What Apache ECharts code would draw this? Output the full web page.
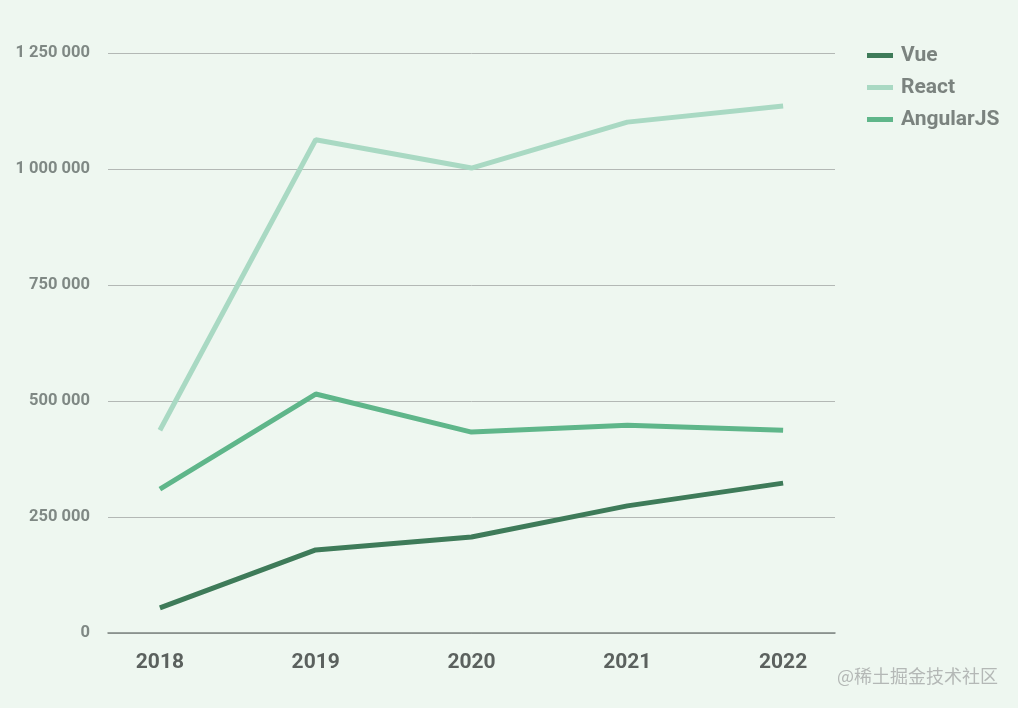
<!DOCTYPE html>
<html>
<head>
<meta charset="utf-8">
<script src="https://cdn.jsdelivr.net/npm/echarts@6/dist/echarts.min.js"></script>
<style>
html,body{margin:0;padding:0;background:#eef7f0;}
#c{width:1018px;height:708px;}
</style>
</head>
<body>
<div id="c"></div>
<script>
const years = [2018, 2019, 2020, 2021, 2022];
const vue = [54000, 179000, 207000, 274000, 323000];
const react = [437000, 1063000, 1002000, 1101000, 1136000];
const angular = [310000, 515000, 433000, 448000, 437000];
const yTicks = [0, 250000, 500000, 750000, 1000000, 1250000];

function pairs(arr){ return years.map((y,i)=>[y, arr[i]]); }
function fmt(v){ return String(v).replace(/\B(?=(\d{3})+(?!\d))/g, ' '); }

const chart = echarts.init(document.getElementById('c'));
chart.setOption({
  backgroundColor: '#eef7f0',
  animation: false,
  grid: { left: 108, right: 183, top: 53, bottom: 75 },
  legend: {
    orient: 'vertical', left: 862, top: 40,
    itemWidth: 26, itemHeight: 5, itemGap: 11,
    icon: 'rect',
    textStyle: { fontFamily: 'Roboto', fontWeight: 'bold', fontSize: 21, lineHeight: 20, color: '#7b837f', padding: [0,0,0,3] },
    data: ['Vue', 'React', 'AngularJS']
  },
  xAxis: {
    type: 'value', min: 2017.667, max: 2022.333,
    axisLine: { show: true, lineStyle: { color: '#7d8581', width: 1.5 } },
    axisTick: { show: false },
    splitLine: { show: false },
    axisLabel: {
      customValues: years,
      formatter: v => String(v),
      fontFamily: 'Roboto', fontWeight: 'bold', fontSize: 21, color: '#5b615e', margin: 19
    }
  },
  yAxis: {
    type: 'value', min: 0, max: 1250000, interval: 250000,
    axisLine: { show: false }, axisTick: { show: false },
    splitLine: { lineStyle: { color: '#b3b8b5', width: 1 } },
    axisLabel: {
      formatter: v => fmt(v),
      fontFamily: 'Roboto', fontWeight: 'bold', fontSize: 16.5, color: '#7f8884', margin: 18
    }
  },
  graphic: [{
    type: 'text', right: 20, top: 667,
    style: { text: '@稀土掘金技术社区', fontFamily: 'Noto Sans CJK SC', fontSize: 18, fill: '#b4b8b6' }
  }],
  series: [
    { name: 'Vue', type: 'line', data: pairs(vue), showSymbol: false, symbol: 'none',
      itemStyle: { color: '#3e7b59' }, lineStyle: { color: '#3e7b59', width: 5 } },
    { name: 'React', type: 'line', data: pairs(react), showSymbol: false, symbol: 'none',
      itemStyle: { color: '#a9d9c3' }, lineStyle: { color: '#a9d9c3', width: 5 } },
    { name: 'AngularJS', type: 'line', data: pairs(angular), showSymbol: false, symbol: 'none',
      itemStyle: { color: '#5fb68a' }, lineStyle: { color: '#5fb68a', width: 5 } }
  ]
});
</script>
</body>
</html>
